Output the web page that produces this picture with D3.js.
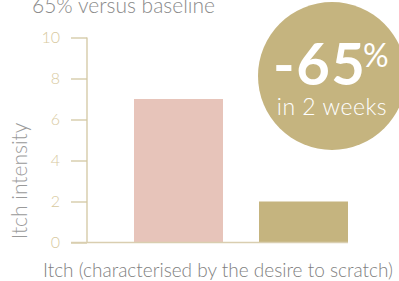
<!DOCTYPE html>
<html>
<head>
<meta charset="utf-8">
<script src="https://cdn.jsdelivr.net/npm/d3@7"></script>
<style>
  body { margin: 0; background: #fff; }
  svg { display: block; font-family: Lato, "Open Sans", sans-serif; }
</style>
</head>
<body>
<script>
// itch intensity, baseline vs after 2 weeks
var categories = ["Baseline", "2 weeks"];
var values = [7, 2];
var barColors = ["#e7c4ba", "#c5b47f"];
var yTicks = [0, 2, 4, 6, 8, 10];

var width = 399, height = 281;

var svg = d3.select("body")
    .append("svg")
    .attr("width", width)
    .attr("height", height);

var y = d3.scaleLinear().domain([0, 10]).range([242.5, 37.5]);
var x = d3.scaleBand().domain(categories).range([134, 348]).paddingInner(0.288).paddingOuter(0);

// title, cut off at top
svg.append("text")
    .attr("x", 32)
    .attr("y", 13)
    .attr("fill", "#8a8a8a")
    .attr("font-size", 21)
    .attr("font-weight", 300)
    .text("65% versus baseline");

// bars
svg.selectAll("rect.bar")
    .data(values)
    .enter()
    .append("rect")
    .attr("class", "bar")
    .attr("x", function(d, i) { return x(categories[i]); })
    .attr("y", function(d) { return y(d); })
    .attr("width", x.bandwidth())
    .attr("height", function(d) { return y(0) - y(d); })
    .attr("fill", function(d, i) { return barColors[i]; });

// y axis
var yAxis = d3.axisLeft(y).tickValues(yTicks).tickSize(16).tickPadding(11);
var gy = svg.append("g")
    .attr("transform", "translate(87,0)")
    .call(yAxis);
gy.select(".domain").attr("stroke", "#d3c7a2").attr("stroke-width", 1.3).attr("d", "M0," + y(10) + "V" + y(0));
gy.selectAll(".tick line").attr("stroke", "#d3c7a2").attr("stroke-width", 1.3);
gy.selectAll(".tick text")
    .attr("fill", "#d7c99e")
    .attr("font-size", 16)
    .attr("font-weight", 300)
    .attr("font-family", "Lato, sans-serif");

// baseline
svg.append("line")
    .attr("x1", 71)
    .attr("x2", x(categories[1]) + x.bandwidth())
    .attr("y1", y(0))
    .attr("y2", y(0))
    .attr("stroke", "#d9ceb0")
    .attr("stroke-width", 1.5);

// axis titles
svg.append("text")
    .attr("transform", "translate(27,181) rotate(-90)")
    .attr("text-anchor", "middle")
    .attr("fill", "#9a9a9a")
    .attr("font-size", 21)
    .attr("font-weight", 300)
    .text("Itch intensity");

svg.append("text")
    .attr("x", 43)
    .attr("y", 277)
    .attr("fill", "#7f7f7f")
    .attr("font-size", 19)
    .attr("font-weight", 300)
    .text("Itch (characterised by the desire to scratch)");

// badge
var badge = svg.append("g").attr("transform", "translate(332,76)");
badge.append("circle").attr("r", 74).attr("fill", "#c5b47f");
badge.append("text")
    .attr("x", -59)
    .attr("y", 9)
    .attr("fill", "#fff")
    .attr("font-size", 58)
    .attr("font-weight", 700)
    .attr("letter-spacing", 1.5)
    .text("-65");
badge.append("text")
    .attr("x", 31)
    .attr("y", -9)
    .attr("fill", "#fff")
    .attr("font-size", 32)
    .attr("font-weight", 400)
    .text("%");
badge.append("text")
    .attr("x", 0)
    .attr("y", 39)
    .attr("text-anchor", "middle")
    .attr("fill", "#fff")
    .attr("font-size", 23)
    .attr("font-weight", 300)
    .attr("letter-spacing", 0.5)
    .text("in 2 weeks");
</script>
</body>
</html>
